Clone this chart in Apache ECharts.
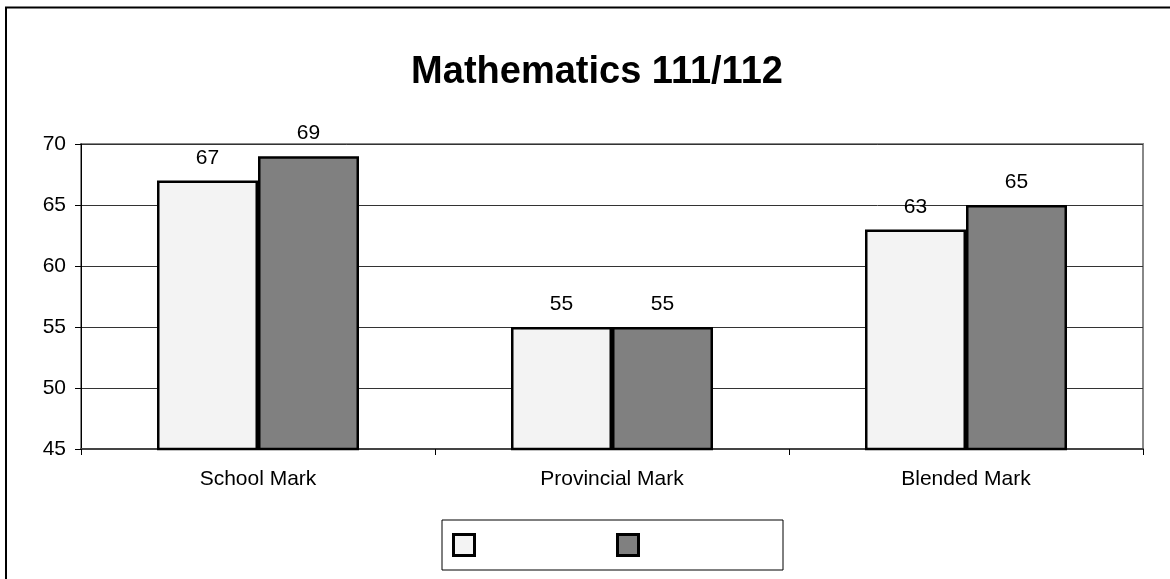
<!DOCTYPE html>
<html>
<head>
<meta charset="utf-8">
<script src="https://cdn.jsdelivr.net/npm/echarts@6/dist/echarts.min.js"></script>
<style>
html,body{margin:0;padding:0;background:#fff;}
#chart{width:1170px;height:579px;}
</style>
</head>
<body>
<div id="chart"></div>
<script>
const categories = ['School Mark', 'Provincial Mark', 'Blended Mark'];
const seriesA = [67, 55, 63];
const seriesB = [69, 55, 65];
const yTicks = [45, 50, 55, 60, 65, 70];

const chart = echarts.init(document.getElementById('chart'));
const font = '"Liberation Sans", Arial, sans-serif';
chart.setOption({
  animation: false,
  backgroundColor: '#ffffff',
  title: {
    text: 'Mathematics 111/112',
    left: 592,
    top: 49,
    textAlign: 'center',
    textStyle: { fontFamily: font, fontSize: 38, fontWeight: 'bold', color: '#000' }
  },
  graphic: [{
    type: 'rect',
    shape: { x: 6, y: 7.5, width: 1200, height: 600 },
    style: { fill: 'none', stroke: '#000', lineWidth: 2 },
    silent: true
  }],
  legend: {
    left: 442,
    top: 520,
    padding: [13, 143, 13, 10],
    itemWidth: 21,
    itemHeight: 21,
    itemGap: 140,
    borderColor: '#000',
    borderWidth: 1,
    formatter: function () { return ''; },
    data: [
      { name: 'Series A', icon: 'rect', itemStyle: { color: '#f3f3f3', borderColor: '#000', borderWidth: 3 } },
      { name: 'Series B', icon: 'rect', itemStyle: { color: '#808080', borderColor: '#000', borderWidth: 3 } }
    ]
  },
  grid: {
    left: 81, top: 144, right: 27, bottom: 130,
    show: true, borderColor: '#888', borderWidth: 2, backgroundColor: '#fff',
    containLabel: false
  },
  xAxis: {
    type: 'category',
    data: categories,
    axisLine: { lineStyle: { color: '#444', width: 2 } },
    axisTick: { show: true, alignWithLabel: false, length: 6, lineStyle: { color: '#000' } },
    axisLabel: { fontFamily: font, fontSize: 21, color: '#000', margin: 20 },
    splitLine: { show: false }
  },
  yAxis: {
    type: 'value',
    min: yTicks[0],
    max: yTicks[yTicks.length - 1],
    interval: 5,
    axisLine: { show: true, lineStyle: { color: '#000', width: 1 } },
    axisTick: { show: true, length: 6, lineStyle: { color: '#000' } },
    axisLabel: { fontFamily: font, fontSize: 21, color: '#000', margin: 15 },
    splitLine: { show: true, lineStyle: { color: '#333', width: 1 } }
  },
  series: [
    {
      name: 'Series A', type: 'bar', data: seriesA,
      barWidth: 101, barGap: '0%',
      itemStyle: { color: '#f3f3f3', borderColor: '#000', borderWidth: 2.5 },
      label: { show: true, position: 'top', distance: 12, fontFamily: font, fontSize: 21, color: '#000' }
    },
    {
      name: 'Series B', type: 'bar', data: seriesB,
      barWidth: 101, barGap: '0%',
      itemStyle: { color: '#808080', borderColor: '#000', borderWidth: 2.5 },
      label: { show: true, position: 'top', distance: 12, fontFamily: font, fontSize: 21, color: '#000' }
    }
  ]
});
</script>
</body>
</html>
